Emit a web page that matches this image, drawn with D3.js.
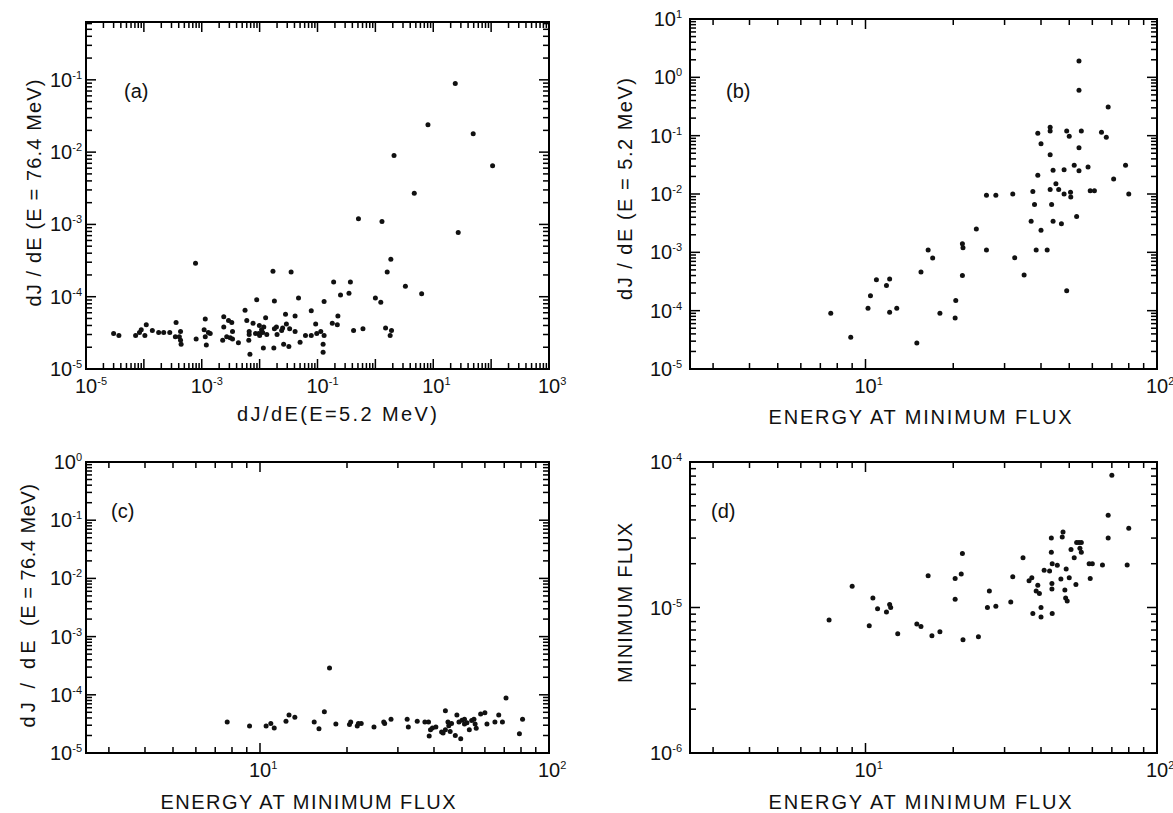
<!DOCTYPE html>
<html lang="en">
<head>
<meta charset="utf-8">
<script src="https://d3js.org/d3.v7.min.js"></script>
<style>
  body { margin: 0; background: #fff; }
  text { font-family: "Liberation Sans", Arial, sans-serif; fill: #111; }
</style>
</head>
<body>
<script>
// (a) x: dJ/dE at 5.2 MeV, y: dJ/dE at 76.4 MeV
const pointsA = [
  [24, 8.9e-2], [8.1, 2.4e-2], [49, 1.8e-2], [2.1, 9.0e-3], [106, 6.5e-3], [4.7, 2.7e-3],
  [0.51, 1.2e-3], [1.3, 1.1e-3], [27, 7.7e-4], [7.8e-4, 2.9e-4], [1.85, 3.3e-4],
  [1.7e-2, 2.25e-4], [3.5e-2, 2.2e-4], [1.6, 2.2e-4], [0.19, 1.6e-4], [0.37, 1.6e-4],
  [3.3, 1.4e-4], [0.25, 1.06e-4], [0.35, 1.12e-4], [6.3, 1.1e-4], [1.0, 9.6e-5], [1.24, 8.4e-5],
  [8.9e-3, 9.1e-5], [4.7e-2, 9.6e-5], [1.8e-2, 8.7e-5], [0.13, 8.6e-5], [5.6e-3, 6.5e-5],
  [7.8e-2, 6.4e-5], [2.8e-2, 5.7e-5], [4.1e-2, 5.4e-5], [2.4e-3, 5.3e-5], [1.27e-2, 5.1e-5],
  [0.225, 5.4e-5], [1.15e-3, 4.9e-5], [2.9e-3, 4.7e-5], [6.0e-3, 4.7e-5], [3.3e-3, 4.4e-5],
  [3.6e-4, 4.4e-5], [0.18, 4.3e-5], [7.7e-3, 4.3e-5], [2.9e-2, 4.2e-5], [9.3e-2, 4.2e-5],
  [1.1e-4, 4.1e-5], [0.22, 4.1e-5], [9.9e-3, 4.0e-5], [1.95e-2, 3.8e-5], [1.18e-2, 3.8e-5],
  [2.5e-2, 3.7e-5], [2.4e-3, 3.8e-5], [1.8e-2, 3.6e-5], [3.3e-2, 3.6e-5], [0.42, 3.4e-5],
  [0.61, 3.6e-5], [1.5, 3.7e-5], [1.9, 3.4e-5], [1.4e-4, 3.4e-5], [9.0e-5, 3.5e-5],
  [1.1e-3, 3.5e-5], [3.4e-3, 3.3e-5], [1.08e-2, 3.5e-5], [6.6e-3, 3.3e-5], [4.1e-2, 3.3e-5],
  [2.2e-4, 3.2e-5], [1.8e-4, 3.2e-5], [2.8e-4, 3.2e-5], [4.3e-4, 3.3e-5], [0.114, 3.3e-5],
  [3.0e-5, 3.1e-5], [8.4e-5, 3.2e-5], [1.3e-3, 3.2e-5], [1.4e-3, 3.1e-5], [8.5e-3, 3.1e-5],
  [9.7e-3, 3.1e-5], [1.13e-2, 3.2e-5], [1.33e-2, 3.0e-5], [2.0e-2, 3.0e-5], [2.4e-2, 3.4e-5],
  [3.7e-5, 2.9e-5], [7.2e-5, 2.9e-5], [1.04e-4, 2.9e-5], [3.5e-4, 2.8e-5], [4.1e-4, 2.8e-5],
  [1.15e-3, 2.8e-5], [6.6e-3, 3.0e-5], [1.0e-2, 2.9e-5], [6.2e-2, 2.9e-5], [7.8e-2, 2.9e-5],
  [9.7e-2, 3.1e-5], [0.13, 2.9e-5], [1.8, 2.9e-5], [8.0e-4, 2.6e-5], [2.3e-3, 2.5e-5],
  [3.4e-3, 2.6e-5], [4.3e-4, 2.5e-5], [6.5e-3, 2.5e-5], [4.3e-3, 2.3e-5], [4.4e-4, 2.2e-5],
  [1.2e-3, 2.15e-5], [5.0e-2, 2.35e-5], [2.6e-2, 2.2e-5], [3.2e-2, 2.05e-5], [0.125, 2.2e-5],
  [1.16e-2, 1.95e-5], [1.76e-2, 1.95e-5], [6.8e-3, 1.6e-5], [0.125, 1.7e-5], [2.7e-3, 2.8e-5],
  [3.1e-3, 2.7e-5]
];

// (b) x: energy at minimum flux, y: dJ/dE at 5.2 MeV
const pointsB = [
  [54, 1.9], [54, 0.6], [68, 0.31], [43, 0.14], [43, 0.12], [49, 0.12], [55, 0.12], [39, 0.11],
  [50, 0.098], [64.5, 0.114], [67, 0.094], [40, 0.073], [54, 0.062], [43, 0.047], [52, 0.031],
  [58, 0.029], [78, 0.031], [44, 0.0255], [48, 0.026], [54, 0.025], [39, 0.021], [45, 0.015],
  [71, 0.018], [43, 0.012], [46, 0.012], [37.5, 0.011], [48, 0.010], [50.5, 0.0107],
  [50.6, 0.0089], [59, 0.0114], [61, 0.0114], [26, 0.0095], [28, 0.0095], [32, 0.010],
  [80, 0.010], [38, 0.0066], [43.5, 0.0066], [53, 0.0041], [37, 0.0034], [44, 0.0034],
  [47, 0.0031], [40, 0.0024], [24, 0.0025], [21.5, 0.0014], [21.6, 0.0012], [16.4, 0.0011],
  [26, 0.0011], [38.5, 0.0011], [42, 0.0011], [17, 8.0e-4], [32.5, 8.1e-4], [15.5, 4.6e-4],
  [35, 4.1e-4], [21.5, 4.0e-4], [10.9, 3.4e-4], [12.1, 3.5e-4], [11.8, 2.7e-4], [10.4, 1.8e-4],
  [49, 2.2e-4], [10.2, 1.1e-4], [12.1, 9.4e-5], [12.8, 1.1e-4], [20.4, 1.5e-4], [18, 9.0e-5],
  [20.3, 7.5e-5], [7.6, 9.0e-5], [8.9, 3.5e-5], [15, 2.8e-5]
];

// (c) x: energy at minimum flux, y: dJ/dE at 76.4 MeV
const pointsC = [
  [17.4, 2.9e-4], [71, 8.8e-5], [16.7, 5.1e-5], [58, 4.7e-5], [60, 4.9e-5], [67, 4.5e-5],
  [12.6, 4.5e-5], [13.2, 4.1e-5], [12.3, 3.5e-5], [7.7, 3.4e-5], [9.2, 2.9e-5], [10.5, 2.9e-5],
  [10.9, 3.2e-5], [11.2, 2.7e-5], [15.4, 3.4e-5], [16, 2.6e-5], [18.3, 3.15e-5], [20.4, 3.1e-5],
  [20.6, 3.4e-5], [21.7, 2.9e-5], [21.9, 3.2e-5], [22.4, 3.2e-5], [24.8, 2.8e-5], [26.8, 3.4e-5],
  [27, 3.2e-5], [28.4, 3.8e-5], [32.3, 3.8e-5], [32.6, 2.8e-5], [35, 3.5e-5], [37.2, 3.4e-5],
  [38.3, 3.4e-5], [38.5, 1.96e-5], [38.9, 2.5e-5], [39.5, 2.7e-5], [40.6, 2.8e-5], [43.8, 5.3e-5],
  [44.7, 3.4e-5], [45, 2.95e-5], [43.8, 2.5e-5], [42.5, 2.3e-5], [43, 2.2e-5], [45.5, 2.35e-5],
  [47.4, 2.0e-5], [48, 4.5e-5], [49.5, 1.75e-5], [48.8, 3.4e-5], [50, 3.65e-5], [51, 3.8e-5],
  [52, 3.3e-5], [54, 3.6e-5], [55, 3.8e-5], [53, 2.5e-5], [56, 2.65e-5], [61, 3.15e-5],
  [65, 3.4e-5], [69, 3.4e-5], [81, 3.8e-5], [79, 2.15e-5], [46, 3.2e-5], [51, 3.15e-5],
  [55.5, 3.15e-5]
];

// (d) x: energy at minimum flux, y: minimum flux
const pointsD = [
  [70, 8.1e-5], [68, 4.3e-5], [80, 3.5e-5], [68, 3.0e-5], [47.6, 3.3e-5], [43.4, 3.0e-5],
  [47.3, 3.05e-5], [53, 2.8e-5], [54, 2.8e-5], [55, 2.8e-5], [50.7, 2.5e-5], [54.4, 2.55e-5],
  [55, 2.4e-5], [34.7, 2.2e-5], [21.5, 2.35e-5], [43.4, 2.4e-5], [52, 2.2e-5], [60, 2.0e-5],
  [58.5, 2.0e-5], [65, 1.96e-5], [79, 1.96e-5], [43.7, 2.0e-5], [45.5, 1.95e-5], [41, 1.8e-5],
  [42.8, 1.78e-5], [48.8, 1.84e-5], [21.3, 1.7e-5], [16.4, 1.65e-5], [20.3, 1.58e-5], [32, 1.63e-5],
  [37.2, 1.6e-5], [36.4, 1.53e-5], [46.8, 1.57e-5], [50, 1.6e-5], [59, 1.58e-5], [43.6, 1.46e-5],
  [39, 1.42e-5], [52.7, 1.44e-5], [9.0, 1.4e-5], [26.6, 1.3e-5], [38.5, 1.3e-5], [39.5, 1.25e-5],
  [43.6, 1.34e-5], [48.3, 1.32e-5], [48.6, 1.16e-5], [49.2, 1.11e-5], [10.6, 1.16e-5],
  [20.3, 1.14e-5], [31.5, 1.09e-5], [12.1, 1.05e-5], [12.2, 1.0e-5], [11.0, 9.8e-6], [11.8, 9.3e-6],
  [26.2, 1.0e-5], [28, 1.02e-5], [40, 1.0e-5], [37.5, 9.1e-6], [43.7, 9.1e-6], [40, 8.6e-6],
  [7.5, 8.2e-6], [10.3, 7.5e-6], [15, 7.7e-6], [15.5, 7.4e-6], [12.9, 6.6e-6], [16.9, 6.4e-6],
  [18, 6.8e-6], [21.6, 6.0e-6], [24.4, 6.3e-6]
];

// tick label exponents (labels read 10^n)
const xExpA = [-5, -3, -1, 1, 3];
const yExpA = [-5, -4, -3, -2, -1];
const xExpEnergy = [1, 2];
const yExpB = [-5, -4, -3, -2, -1, 0, 1];
const yExpC = [-5, -4, -3, -2, -1, 0];
const yExpD = [-6, -5, -4];

// tick multipliers inside each decade
const majorSteps = [1];
const minorSteps = [2, 3, 4, 5, 6, 7, 8, 9];

const w = 1173, h = 813;
const tickW = 1.5;

const svg = d3.select("body").append("svg")
  .attr("width", w)
  .attr("height", h);

const panels = [
  { tag: "(a)", data: pointsA, l: 86, r: 549, t: 22, b: 369,
    xDom: [1e-5, 1e3], yDom: [1e-5, Math.pow(10, -0.2)], xExp: xExpA, yExp: yExpA, gap: 4,
    tagX: 124, tagY: 98 },
  { tag: "(b)", data: pointsB, l: 690, r: 1157, t: 19, b: 369,
    xDom: [2.5, 100], yDom: [1e-5, 10], xExp: xExpEnergy, yExp: yExpB, gap: 8,
    tagX: 726, tagY: 98 },
  { tag: "(c)", data: pointsC, l: 86, r: 549, t: 462, b: 753,
    xDom: [2.5, 100], yDom: [1e-5, 1], xExp: xExpEnergy, yExp: yExpC, gap: 4,
    tagX: 111, tagY: 518 },
  { tag: "(d)", data: pointsD, l: 690, r: 1157, t: 462, b: 753,
    xDom: [2.5, 100], yDom: [1e-6, 1e-4], xExp: xExpEnergy, yExp: yExpD, gap: 8,
    tagX: 711, tagY: 518 }
];

// m x 10^k values that fall strictly inside a log domain
function stepVals(dom, steps) {
  const out = [];
  for (let k = Math.floor(Math.log10(dom[0])); k <= Math.ceil(Math.log10(dom[1])); k++) {
    steps.forEach(m => {
      const v = m * Math.pow(10, k);
      if (v > dom[0] * 1.0001 && v < dom[1] * 0.9999) out.push(v);
    });
  }
  return out;
}

panels.forEach(p => {
  const g = svg.append("g");
  const x = d3.scaleLog().domain(p.xDom).range([p.l, p.r]);
  const y = d3.scaleLog().domain(p.yDom).range([p.b, p.t]);

  // inward ticks on all four sides, drawn as thin filled bars at scale positions
  const xt = [], yt = [];
  [[majorSteps, 10], [minorSteps, 6]].forEach(([steps, len]) => {
    stepVals(p.xDom, steps).forEach(v => xt.push({ v: v, len: len }));
    stepVals(p.yDom, steps).forEach(v => yt.push({ v: v, len: len }));
  });
  const tg = g.append("g").attr("fill", "#000");
  tg.selectAll(".tkb").data(xt).join("rect").attr("class", "tkb")
    .attr("x", d => x(d.v) - tickW / 2).attr("y", d => p.b - d.len)
    .attr("width", tickW).attr("height", d => d.len);
  tg.selectAll(".tkt").data(xt).join("rect").attr("class", "tkt")
    .attr("x", d => x(d.v) - tickW / 2).attr("y", p.t)
    .attr("width", tickW).attr("height", d => d.len);
  tg.selectAll(".tkl").data(yt).join("rect").attr("class", "tkl")
    .attr("x", p.l).attr("y", d => y(d.v) - tickW / 2)
    .attr("width", d => d.len).attr("height", tickW);
  tg.selectAll(".tkr").data(yt).join("rect").attr("class", "tkr")
    .attr("x", d => p.r - d.len).attr("y", d => y(d.v) - tickW / 2)
    .attr("width", d => d.len).attr("height", tickW);

  g.append("rect")
    .attr("x", p.l).attr("y", p.t)
    .attr("width", p.r - p.l).attr("height", p.b - p.t)
    .attr("fill", "none").attr("stroke", "#000").attr("stroke-width", 2);

  // x tick labels: "10" centred on the decade, exponent raised to the right
  g.selectAll(".xlab").data(p.xExp).join("text")
    .attr("class", "xlab")
    .attr("x", d => x(Math.pow(10, d)) - 11)
    .attr("y", p.b + 24)
    .attr("font-size", 20)
    .text("10")
    .append("tspan").attr("dy", -8).attr("font-size", 11).text(d => d);

  // y tick labels, right aligned against the frame
  g.selectAll(".ylab").data(p.yExp).join("text")
    .attr("class", "ylab")
    .attr("x", p.l - p.gap)
    .attr("y", d => y(Math.pow(10, d)) + 7)
    .attr("text-anchor", "end")
    .attr("font-size", 20)
    .text("10")
    .append("tspan").attr("dy", -8).attr("font-size", 11).text(d => d);

  g.append("text")
    .attr("x", p.tagX).attr("y", p.tagY)
    .attr("font-size", 20)
    .text(p.tag);

  g.selectAll(".dot").data(p.data).join("circle")
    .attr("class", "dot")
    .attr("cx", d => x(d[0]))
    .attr("cy", d => y(d[1]))
    .attr("r", 2.5)
    .attr("fill", "#111");
});

// axis titles
function hTitle(txt, cx, base, len) {
  svg.append("text")
    .attr("x", cx).attr("y", base)
    .attr("text-anchor", "middle")
    .attr("font-size", 20)
    .attr("textLength", len).attr("lengthAdjust", "spacing")
    .text(txt);
}
function vTitle(txt, base, cy, len) {
  svg.append("text")
    .attr("transform", `translate(${base},${cy}) rotate(-90)`)
    .attr("text-anchor", "middle")
    .attr("font-size", 20)
    .attr("textLength", len).attr("lengthAdjust", "spacing")
    .text(txt);
}

hTitle("dJ/dE(E=5.2 MeV)", 337, 421, 200);
hTitle("ENERGY AT MINIMUM FLUX", 920, 424, 303);
hTitle("ENERGY AT MINIMUM FLUX", 308, 809, 295);
hTitle("ENERGY AT MINIMUM FLUX", 920, 809, 303);

vTitle("dJ / dE  (E = 76.4 MeV)", 41, 193, 227);
vTitle("dJ / dE (E = 5.2 MeV)", 632, 189, 222);
vTitle("dJ / dE", 35, 684, 87);
vTitle("(E = 76.4 MeV)", 35, 555, 142);
vTitle("MINIMUM FLUX", 632, 603, 160);
</script>
</body>
</html>
